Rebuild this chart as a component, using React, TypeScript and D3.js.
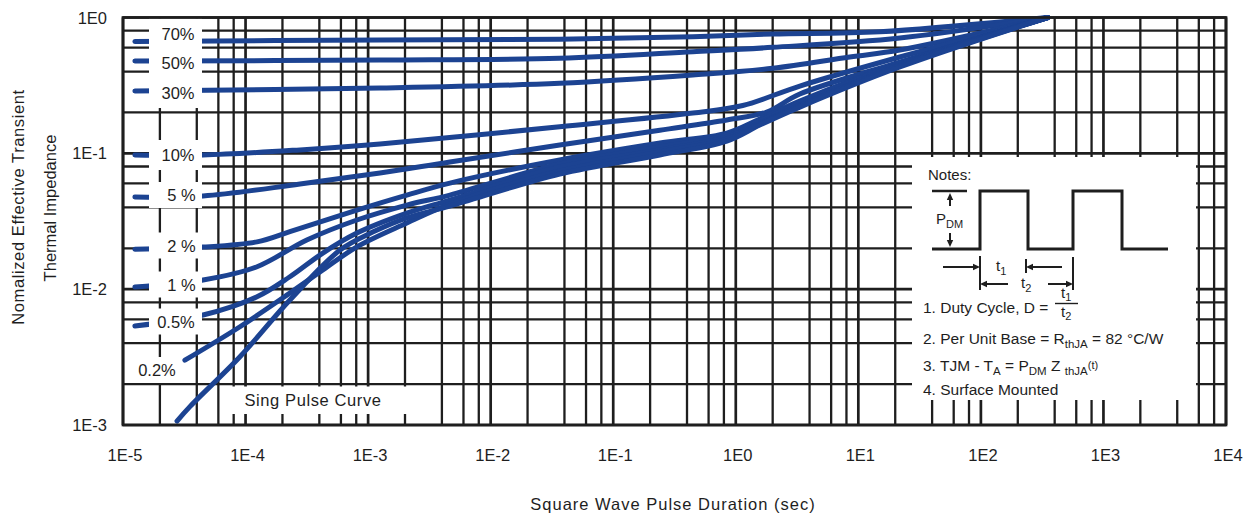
import React from 'react';
import * as d3 from 'd3';

// ---------- data ----------
const xTicks = [1e-5, 1e-4, 1e-3, 1e-2, 1e-1, 1e0, 1e1, 1e2, 1e3, 1e4];
const xTickLabels = ['1E-5', '1E-4', '1E-3', '1E-2', '1E-1', '1E0', '1E1', '1E2', '1E3', '1E4'];
const yTicks = [1e-3, 1e-2, 1e-1, 1e0];
const yTickLabels = ['1E-3', '1E-2', '1E-1', '1E0'];
const minorMultipliers = [2, 4, 6, 8];

type P = [number, number];
const d70: P[] = [[1.25e-5, 0.666], [1.25e-3, 0.683], [0.0366, 0.691], [0.446, 0.722], [2.0, 0.756], [15, 0.786], [351, 1.0]];
const d50: P[] = [[1.25e-5, 0.478], [1.25e-3, 0.486], [0.0366, 0.501], [0.446, 0.56], [2.0, 0.603], [21.8, 0.706], [351, 1.0]];
const d30: P[] = [[1.25e-5, 0.2875], [1.25e-3, 0.3026], [0.0366, 0.3277], [0.446, 0.377], [2.0, 0.4225], [8.5, 0.512], [21.8, 0.576], [351, 1.0]];
const d10: P[] = [[1.25e-5, 0.0972], [4.5e-5, 0.0972], [2.78e-4, 0.106], [1.25e-3, 0.117], [0.0366, 0.157], [0.446, 0.198], [1.14, 0.225], [3.33, 0.313], [21.8, 0.512], [351, 1.0]];
const d5: P[] = [[1.25e-5, 0.0477], [4.5e-5, 0.0485], [2.78e-4, 0.0594], [1.25e-3, 0.0716], [4.65e-3, 0.0863], [0.0366, 0.115], [0.24, 0.148], [0.845, 0.176], [1.79, 0.2014], [3.33, 0.2733], [21.8, 0.47], [351, 1.0]];
const d2: P[] = [[1.25e-5, 0.0197], [4.5e-5, 0.0204], [1.24e-4, 0.0223], [2.3e-4, 0.0265], [8.1e-4, 0.0382], [2.07e-3, 0.0493], [4.65e-3, 0.0604], [0.0366, 0.0893], [0.24, 0.119], [0.845, 0.141], [1.57, 0.179], [3.33, 0.243], [21.8, 0.462], [351, 1.0]];
const d1: P[] = [[1.25e-5, 0.01036], [4.5e-5, 0.01167], [1.24e-4, 0.01462], [3.16e-4, 0.023], [8.1e-4, 0.0323], [2.07e-3, 0.0416], [4.65e-3, 0.0493], [0.0366, 0.0834], [0.24, 0.1113], [0.845, 0.136], [1.57, 0.173], [3.33, 0.235], [21.8, 0.455], [351, 1.0]];
const d05: P[] = [[1.25e-5, 0.00535], [4.5e-5, 0.00645], [1.24e-4, 0.00879], [2.3e-4, 0.01234], [4.27e-4, 0.01845], [8.1e-4, 0.0259], [2.07e-3, 0.0363], [4.65e-3, 0.0453], [0.0366, 0.0793], [0.24, 0.1057], [0.845, 0.1318], [1.57, 0.167], [3.33, 0.227], [21.8, 0.447], [351, 1.0]];
const d02: P[] = [[3.2e-5, 0.003], [9e-5, 0.00529], [2.3e-4, 0.00936], [4.27e-4, 0.01383], [8.1e-4, 0.0205], [2.07e-3, 0.0307], [4.65e-3, 0.0423], [0.0366, 0.0741], [0.24, 0.1022], [0.845, 0.1274], [1.57, 0.164], [3.33, 0.223], [21.8, 0.44], [351, 1.0]];
const dSingle: P[] = [[2.76e-5, 0.00107], [3.5e-5, 0.00136], [9e-5, 0.00318], [2.3e-4, 0.00832], [5.9e-4, 0.0194], [1.09e-3, 0.0263], [2.07e-3, 0.0335], [4.65e-3, 0.0409], [0.0366, 0.0704], [0.24, 0.0972], [0.845, 0.1232], [1.57, 0.1615], [3.33, 0.219], [21.8, 0.432], [351, 1.0]];

const series = [d70, d50, d30, d10, d5, d2, d1, d05, d02, dSingle];
const seriesLabels = ['70%', '50%', '30%', '10%', '5 %', '2 %', '1 %', '0.5%', '0.2%'];

// ---------- layout ----------
const W = 1255, H = 528;
const M = { left: 123, right: 1226, top: 17.5, bottom: 425 };
const FONT = '"Liberation Sans", Arial, Helvetica, sans-serif';
const INK = '#1e1e1e';
const BLUE = '#1c4392';

const labelLayout = [
  { cx: 178, cy: 34, hh: 15.5, x0: 149, x1: 202 },
  { cx: 178, cy: 62.5, hh: 15.5, x0: 149, x1: 202 },
  { cx: 178, cy: 93, hh: 15, x0: 149, x1: 202 },
  { cx: 178, cy: 155, hh: 15, x0: 149, x1: 202 },
  { cx: 181.5, cy: 195, hh: 13, x0: 149, x1: 202 },
  { cx: 181.5, cy: 245.5, hh: 13, x0: 149, x1: 202 },
  { cx: 181.5, cy: 284.5, hh: 13, x0: 149, x1: 202 },
  { cx: 176, cy: 321.5, hh: 13, x0: 149, x1: 202 },
  { cx: 157, cy: 370, hh: 13, x0: 130, x1: 182 },
];

function head(x: number, y: number, dir: 'up' | 'down' | 'left' | 'right') {
  const L = 7, w = 3.2;
  if (dir === 'up') return `M${x},${y} L${x - w},${y + L} L${x + w},${y + L} Z`;
  if (dir === 'down') return `M${x},${y} L${x - w},${y - L} L${x + w},${y - L} Z`;
  if (dir === 'left') return `M${x},${y} L${x + L},${y - w} L${x + L},${y + w} Z`;
  return `M${x},${y} L${x - L},${y - w} L${x - L},${y + w} Z`;
}

export default function App() {
  const x = d3.scaleLog().domain([1e-5, 1e4]).range([M.left, M.right]);
  const y = d3.scaleLog().domain([1e-3, 1]).range([M.bottom, M.top]);
  const line = d3.line<P>().x(d => x(d[0])).y(d => y(d[1])).curve(d3.curveCatmullRom.alpha(0.5));

  const minorX: number[] = [];
  for (let i = 0; i < xTicks.length - 1; i++) minorMultipliers.forEach(m => minorX.push(m * xTicks[i]));
  const minorY: number[] = [];
  for (let i = 0; i < yTicks.length - 1; i++) minorMultipliers.forEach(m => minorY.push(m * yTicks[i]));

  return (
    <svg width={W} height={H} style={{ position: 'absolute', left: 0, top: 0, background: '#fff' }} fontFamily={FONT}>
      <rect x={0} y={0} width={W} height={H} fill="#fff" />
      {/* grid */}
      <g stroke={INK}>
        {minorX.map((v, i) => <line key={'mx' + i} x1={x(v)} x2={x(v)} y1={M.top} y2={M.bottom} strokeWidth={2.3} />)}
        {minorY.map((v, i) => <line key={'my' + i} y1={y(v)} y2={y(v)} x1={M.left} x2={M.right} strokeWidth={2.3} />)}
        {xTicks.map((v, i) => <line key={'Mx' + i} x1={x(v)} x2={x(v)} y1={M.top} y2={M.bottom} strokeWidth={2.7} />)}
        {yTicks.map((v, i) => <line key={'My' + i} y1={y(v)} y2={y(v)} x1={M.left} x2={M.right} strokeWidth={2.7} />)}
      </g>
      {/* curves */}
      <g fill="none" stroke={BLUE} strokeWidth={5} strokeLinecap="round" strokeLinejoin="round">
        {series.map((s, i) => <path key={'s' + i} d={line(s) || ''} />)}
      </g>
      {/* label boxes */}
      {labelLayout.map((l, i) => (
        <g key={'lb' + i}>
          <rect x={l.x0} y={l.cy - l.hh} width={l.x1 - l.x0} height={l.hh * 2} fill="#fff" />
          <text x={l.cx} y={l.cy + 6} fontSize={16.5} textAnchor="middle" fill={INK}>{seriesLabels[i]}</text>
        </g>
      ))}
      <rect x={227} y={386.5} width={183} height={27.5} fill="#fff" />
      <text x={313} y={405.5} fontSize={16.5} textAnchor="middle" letterSpacing={0.6} fill={INK}>Sing Pulse Curve</text>

      {/* notes box */}
      <rect x={912} y={157} width={284} height={243} fill="#fff" />
      <g fill={INK} stroke="none">
        <text x={928} y={180} fontSize={15}>Notes:</text>
        <path d="M932,249 H980 V191 H1028 V249 H1073 V191 H1122 V249 H1168" fill="none" stroke={INK} strokeWidth={3} />
        <path d="M932,191 H967" stroke={INK} strokeWidth={2.4} />
        <path d="M950,197 V206 M950,233 V243" stroke={INK} strokeWidth={2} />
        <path d={head(950, 193, 'up')} />
        <path d={head(950, 247, 'down')} />
        <text x={936} y={224} fontSize={15}>P<tspan fontSize={11} dy={4}>DM</tspan></text>
        <path d="M943,267 H975 M980,256 V290 M1026,259 V273 M1031,267 H1062 M985,284 H1008 M1048,284 H1068 M1073,257 V290" stroke={INK} strokeWidth={2} />
        <path d={head(980, 267, 'right')} />
        <path d={head(1026, 267, 'left')} />
        <path d={head(980, 284, 'left')} />
        <path d={head(1073, 284, 'right')} />
        <text x={996} y={271} fontSize={15}>t<tspan fontSize={11} dy={4}>1</tspan></text>
        <text x={1021} y={288} fontSize={15}>t<tspan fontSize={11} dy={4}>2</tspan></text>

        <text x={923} y={313} fontSize={15.5}>1. Duty Cycle, D =</text>
        <text x={1061} y={298} fontSize={15}>t<tspan fontSize={11} dy={3}>1</tspan></text>
        <path d="M1055,303.5 H1078" stroke={INK} strokeWidth={1.4} />
        <text x={1061} y={317} fontSize={15}>t<tspan fontSize={11} dy={3}>2</tspan></text>

        <text x={923} y={344} fontSize={15.5}>2. Per Unit Base = R<tspan fontSize={11.5} dy={4}>thJA</tspan><tspan dy={-4}> = 82 °C/W</tspan></text>
        <text x={923} y={371} fontSize={15.5}>3. TJM - T<tspan fontSize={11.5} dy={4}>A</tspan><tspan dy={-4}> = P</tspan><tspan fontSize={11.5} dy={4}>DM</tspan><tspan dy={-4}> Z </tspan><tspan fontSize={11.5} dy={4}>thJA</tspan><tspan fontSize={11} dy={-6}>(t)</tspan></text>
        <text x={923} y={395} fontSize={15.5}>4. Surface Mounted</text>
      </g>

      {/* frame */}
      <rect x={M.left} y={M.top} width={M.right - M.left} height={M.bottom - M.top} fill="none" stroke={INK} strokeWidth={2.7} />

      {/* tick labels */}
      {xTicks.map((v, i) => (
        <text key={'xt' + i} x={x(v) + 2} y={461} fontSize={16.5} textAnchor="middle" fill={INK}>{xTickLabels[i]}</text>
      ))}
      {yTicks.map((v, i) => (
        <text key={'yt' + i} x={107} y={y(v) + 6} fontSize={16.5} textAnchor="end" fill={INK}>{yTickLabels[i]}</text>
      ))}

      {/* axis titles */}
      <text x={673} y={510} fontSize={16.5} textAnchor="middle" letterSpacing={1} fill={INK}>Square Wave Pulse Duration (sec)</text>
      <text transform="translate(23.5,207) rotate(-90)" fontSize={16.5} textAnchor="middle" letterSpacing={0.6} fill={INK}>Nomalized Effective Transient</text>
      <text transform="translate(56,208) rotate(-90)" fontSize={16.5} textAnchor="middle" fill={INK}>Thermal Impedance</text>
    </svg>
  );
}
